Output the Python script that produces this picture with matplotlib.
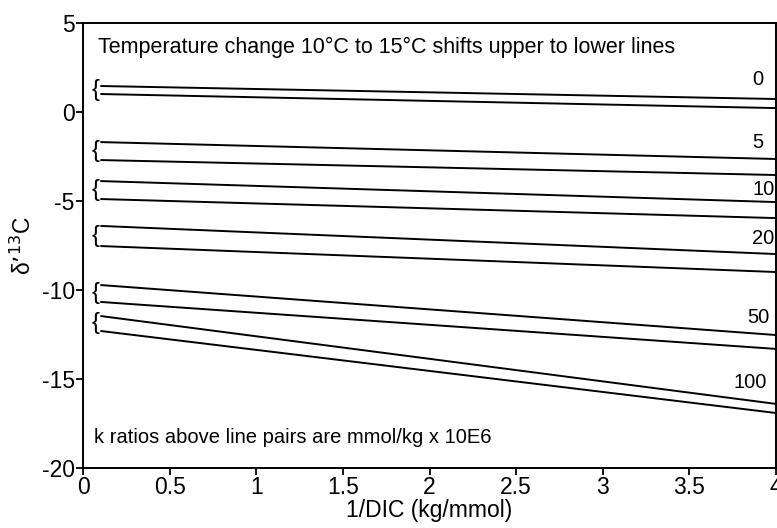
import matplotlib
matplotlib.use("Agg")
import matplotlib.pyplot as plt

plt.rcParams['font.family'] = ['Liberation Sans', 'DejaVu Sans']

k_labels = ["0", "5", "10", "20", "50", "100"]
x_ends = [0.1, 4.0]
upper_start = [1.46, -1.69, -3.88, -6.40, -9.72, -11.46]
upper_end = [0.73, -2.64, -5.06, -7.98, -12.53, -16.40]
lower_start = [1.01, -2.70, -4.89, -7.53, -10.67, -12.30]
lower_end = [0.22, -3.54, -5.96, -8.99, -13.31, -16.91]
label_x = [3.93, 3.93, 3.99, 3.99, 3.96, 3.95]
label_y = [1.80, -1.69, -4.38, -7.08, -11.57, -15.22]

xticks = [0, 0.5, 1, 1.5, 2, 2.5, 3, 3.5, 4]
xticklabels = ["0", "0.5", "1", "1.5", "2", "2.5", "3", "3.5", "4"]
yticks = [-20, -15, -10, -5, 0, 5]
yticklabels = ["-20", "-15", "-10", "-5", "0", "5"]

fig = plt.figure(figsize=(7.77, 5.28), dpi=100)
ax = fig.add_axes([83/777, 1-468/528, (776-83)/777, (468-23)/528])

for us, ue, ls, le in zip(upper_start, upper_end, lower_start, lower_end):
    ax.plot(x_ends, [us, ue], color='black', lw=1.4, solid_capstyle='butt')
    ax.plot(x_ends, [ls, le], color='black', lw=1.4, solid_capstyle='butt')
    ax.text(0.075, (us + ls) / 2, "{", fontsize=17, ha='center', va='center')

for lab, lx, ly in zip(k_labels, label_x, label_y):
    ax.text(lx, ly, lab, fontsize=14.5, ha='right', va='center')

ax.text(0.087, 3.65, "Temperature change 10°C to 15°C shifts upper to lower lines",
        fontsize=15.5, ha='left', va='center')
ax.text(0.065, -18.26, "k ratios above line pairs are mmol/kg x 10E6",
        fontsize=14.5, ha='left', va='center')

ax.set_xlim(0, 4)
ax.set_ylim(-20, 5)
ax.set_xticks(xticks)
ax.set_xticklabels(xticklabels)
ax.set_yticks(yticks)
ax.set_yticklabels(yticklabels)
ax.tick_params(axis='both', direction='out', length=5, width=1.3, labelsize=16.5, pad=1)
for s in ax.spines.values():
    s.set_linewidth(1.4)
ax.set_xlabel("1/DIC (kg/mmol)", fontsize=16.5, labelpad=0)
ax.set_ylabel("δ’$^{13}$C", fontsize=16.5, labelpad=4)

fig.savefig("out.png", dpi=100)
